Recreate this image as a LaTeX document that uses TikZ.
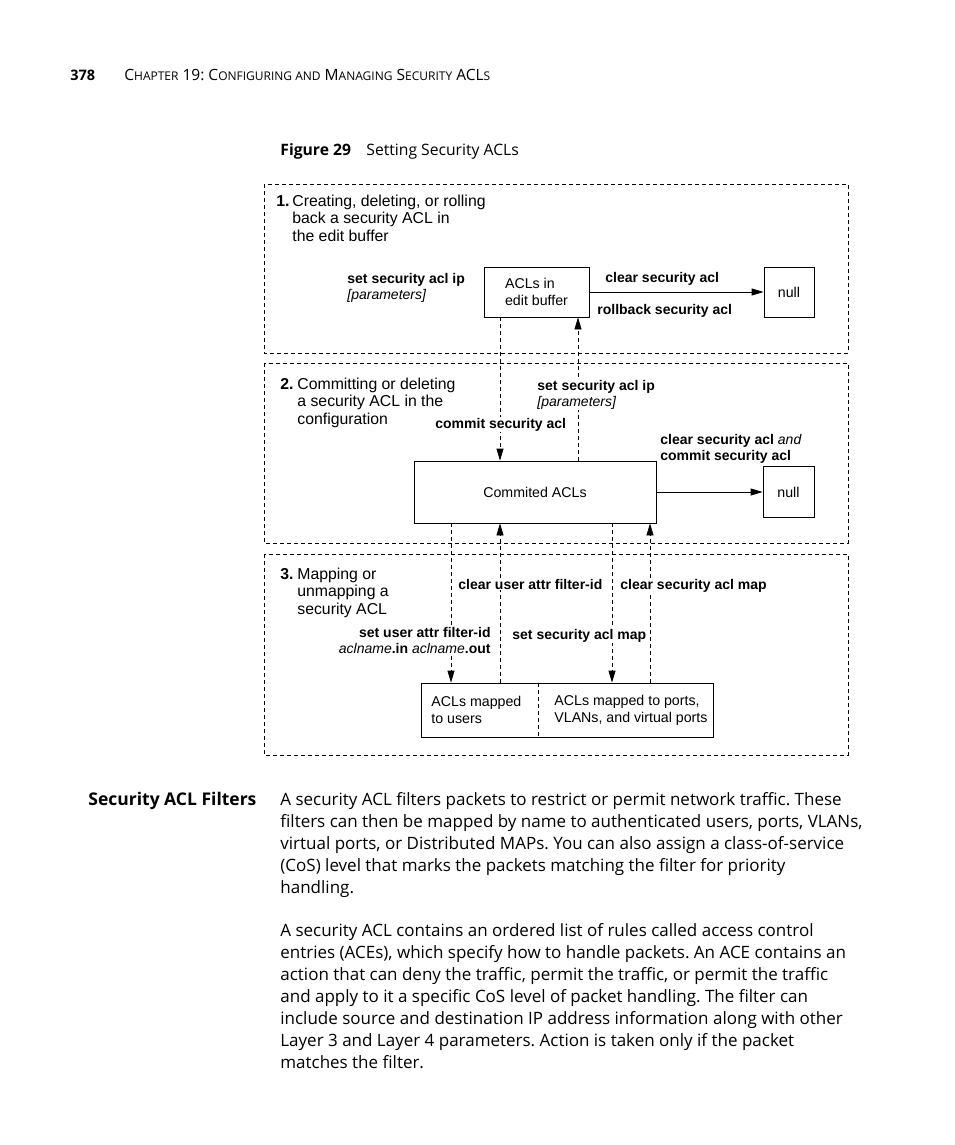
\documentclass[tikz,border=0pt]{standalone}
\usepackage{fontspec}
\setmainfont{Open Sans}
\newfontfamily\figfont{Liberation Sans}
\usetikzlibrary{arrows.meta}
\newcommand\smcap[1]{{\fontsize{12}{14}\selectfont #1}}

\begin{document}
\frenchspacing
\begin{tikzpicture}[x=1pt,y=-1pt,line width=0.8pt,
    >={Triangle[length=12pt,width=7pt]},
    fig/.style={font=\figfont\fontsize{14.2}{17}\selectfont},
    cmd/.style={font=\figfont\bfseries\fontsize{14}{16}\selectfont,align=left,inner sep=1pt,fill=white},
    stage/.style={font=\figfont\fontsize{15.8}{17.5}\selectfont,align=left,anchor=base west,inner sep=0pt},
    aclbox/.style={draw,fig,align=left,inner sep=0pt},
    dline/.style={dash pattern=on 4pt off 3pt},
    body/.style={font=\fontsize{17}{22}\selectfont,align=left,anchor=base west,inner sep=0pt}]
  \useasboundingbox (0,0) rectangle (954,1145);

  % running head and caption
  \node[anchor=base west,inner sep=0pt,font=\bfseries\fontsize{14.5}{16}\selectfont] (page) at (70,81) {378};
  \node[anchor=base west,inner sep=0pt,font=\fontsize{15.5}{16}\selectfont] (head) at (124,81)
    {C\smcap{HAPTER} 19: C\smcap{ONFIGURING AND} M\smcap{ANAGING} S\smcap{ECURITY} ACL\smcap{S}};
  \node[anchor=base west,inner sep=0pt,font=\bfseries\fontsize{15.7}{17}\selectfont] (fignum) at (280,155) {Figure 29};
  \node[anchor=base west,inner sep=0pt,font=\fontsize{15.7}{17}\selectfont] (title) at (366,155) {Setting Security ACLs};

  % the three stages (multi-line nodes sit on their last line)
  \draw[dline] (264,184) rectangle (848,353);
  \draw[dline] (264,363) rectangle (848,543);
  \draw[dline] (264,554) rectangle (848,755);
  \node[stage] (n1) at (276,206) {\bfseries 1.};
  \node[stage] (s1) at (292,241) {Creating, deleting, or rolling\\back a security ACL in\\the edit buffer};
  \node[stage] (n2) at (280,389) {\bfseries 2.};
  \node[stage] (s2) at (297,424) {Committing or deleting\\a security ACL in the\\configuration};
  \node[stage] (n3) at (280,579) {\bfseries 3.};
  \node[stage] (s3) at (297,614) {Mapping or\\unmapping a\\security ACL};

  % boxes
  \node[aclbox,minimum width=105pt,minimum height=50pt] (edit) at (536.5,292) {ACLs in\\edit buffer};
  \node[aclbox,minimum size=50pt] (null1) at (789,292) {null};
  \node[aclbox,minimum width=242pt,minimum height=62pt] (commit) at (535,492) {Commited ACLs};
  \node[aclbox,minimum size=51pt] (null2) at (788.5,492) {null};
  \node[aclbox,minimum width=292pt,minimum height=54pt] (mapped) at (567,710) {};
  \node[fig,align=left,anchor=west,inner sep=0pt] (users) at (431,710) {ACLs mapped\\to users};
  \node[fig,align=left,anchor=west,inner sep=0pt] (ports) at (554,710) {ACLs mapped to ports,\\VLANs, and virtual ports};
  \draw[dline] (538,683) -- (538,737);

  % connectors
  \draw[->] (edit) -- (null1);
  \draw[->] (commit) -- (null2);
  \draw[dline,->] (edit.south -| 500,0) -- (commit.north -| 500,0);
  \draw[dline,->] (commit.north -| 578,0) -- (edit.south -| 578,0);
  \foreach \x/\from/\to in {451/commit.south/mapped.north,612/commit.south/mapped.north,
      500/mapped.north/commit.south,650/mapped.north/commit.south}
    \draw[dline,->] (\from -| \x,0) -- (\to -| \x,0);

  % commands
  \node[cmd,anchor=base west,fill=none] (setip) at (346,299) {set security acl ip\\{\mdseries\itshape [parameters]}};
  \node[cmd,anchor=base west] (clr) at (604,282) {clear security acl};
  \node[cmd,anchor=base west] (rollb) at (596,314) {rollback security acl};
  \node[cmd,anchor=base west] (cmt) at (434,428) {commit security acl};
  \node[cmd,anchor=base west] (setip2) at (536,406) {set security acl ip\\{\mdseries\itshape [parameters]}};
  \node[cmd,anchor=base west] (clrcmt) at (659,460) {clear security acl {\mdseries\itshape and}\\commit security acl};
  \node[cmd,anchor=base west] (clrusr) at (457,589) {clear user attr filter-id};
  \node[cmd,anchor=base west] (clrmap) at (619,589) {clear security acl map};
  \node[cmd,anchor=base east,align=right] (setusr) at (492,653)
    {set user attr filter-id\\{\mdseries\itshape aclname}.in {\mdseries\itshape aclname}.out};
  \node[cmd,anchor=base west] (setmap) at (511,639) {set security acl map};

  % text below the figure
  \node[anchor=base west,inner sep=0pt,font=\bfseries\fontsize{17.5}{22}\selectfont] (sect) at (88,805) {Security ACL Filters};
  \node[body] (para1) at (280,893) {A security ACL filters packets to restrict or permit network traffic. These\\
    filters can then be mapped by name to authenticated users, ports, VLANs,\\
    virtual ports, or Distributed MAPs. You can also assign a class-of-service\\
    (CoS) level that marks the packets matching the filter for priority\\
    handling.};
  \node[body] (para2) at (280,1068) {A security ACL contains an ordered list of rules called access control\\
    entries (ACEs), which specify how to handle packets. An ACE contains an\\
    action that can deny the traffic, permit the traffic, or permit the traffic\\
    and apply to it a specific CoS level of packet handling. The filter can\\
    include source and destination IP address information along with other\\
    Layer 3 and Layer 4 parameters. Action is taken only if the packet\\
    matches the filter.};
\end{tikzpicture}
\end{document}
